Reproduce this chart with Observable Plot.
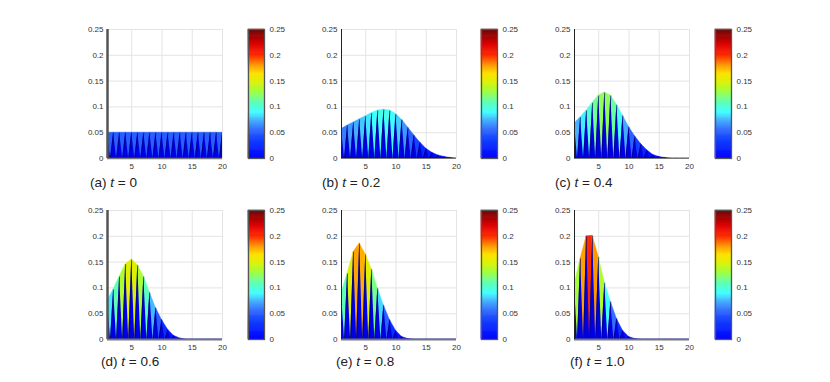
<!DOCTYPE html>
<html><head><meta charset="utf-8">
<script src="https://cdn.jsdelivr.net/npm/d3@7"></script>
<script src="https://cdn.jsdelivr.net/npm/@observablehq/plot@0.6"></script>
<style>
body{margin:0;background:#fff;}
#root{position:relative;width:830px;height:382px;overflow:hidden;background:#fff;}
#root svg{position:absolute;overflow:visible;}
.cap{position:absolute;font-family:"Liberation Sans",Arial,sans-serif;font-size:13.5px;color:#222;white-space:nowrap;line-height:16px;}
</style></head><body><div id="root"></div>
<script>
// ---------- data ----------
const xs = [1,2,3,4,5,6,7,8,9,10,11,12,13,14,15,16,17,18,19,20];
const panelLetters = ["(a)","(b)","(c)","(d)","(e)","(f)"];
const panelTimes = ["0","0.2","0.4","0.6","0.8","1.0"];
const uA = [0.05,0.05,0.05,0.05,0.05,0.05,0.05,0.05,0.05,0.05,0.05,0.05,0.05,0.05,0.05,0.05,0.05,0.05,0.05,0.05];
const uB = [0.057,0.064,0.070,0.076,0.082,0.088,0.093,0.095,0.093,0.086,0.075,0.060,0.045,0.031,0.019,0.011,0.006,0.003,0.001,0];
const uC = [0.068,0.080,0.093,0.108,0.122,0.128,0.122,0.104,0.083,0.061,0.043,0.028,0.016,0.007,0.003,0.001,0,0,0,0];
const uD = [0.075,0.097,0.122,0.146,0.155,0.144,0.122,0.091,0.061,0.038,0.019,0.007,0.002,0,0,0,0,0,0,0];
const uE = [0.090,0.128,0.170,0.186,0.165,0.136,0.099,0.066,0.038,0.017,0.005,0.001,0,0,0,0,0,0,0,0];
const uF = [0.106,0.157,0.200,0.201,0.160,0.110,0.073,0.040,0.017,0.005,0.001,0,0,0,0,0,0,0,0,0];
const series = [uA,uB,uC,uD,uE,uF];
const yTicks = [0,0.05,0.1,0.15,0.2,0.25];
const yTickLabels = ["0","0.05","0.1","0.15","0.2","0.25"];
const xTicks = [5,10,15,20];
// jet-like colormap stops (value -> colour)
const jetValues = [0,0.03,0.055,0.075,0.09,0.11,0.13,0.15,0.165,0.18,0.2,0.22,0.25];
const jetColors = ["#0000ff","#0a32ff","#3068ff","#48b4ff","#40ffff","#60ffb0","#a0ff40","#e0f000","#ffe000","#ff9a00","#ff2a00","#e00000","#6a0000"];

// ---------- layout ----------
const plotLefts = [107,341,574];
const barLefts = [248,481,715];
const rowTops = [29,210];
const PW = 115, PH = 129;
const ML = 32, MR = 8, MT = 6, MB = 18;
const capPos = [[90,175],[322,175],[555,175],[101,354],[336,354],[570,354]];
const leftAxisW = [2.5,1,1,2.5,1,1];
const leftAxisC = ["#555","#222","#222","#555","#222","#222"];
const botAxisW = [1.5,1.2,1.2,2.2,2.2,2.2];

const colorScale = {type:"linear", domain: jetValues, range: jetColors, interpolate:"rgb"};
const fmtY = d => yTickLabels[yTicks.indexOf(d)];
const font = "'Liberation Sans', Arial, sans-serif";
const root = document.getElementById("root");
const zero = () => 0;

function panel(u, k){
  const segs = [];
  for (let i = 0; i < xs.length-1; i++){
    const v = (u[i]+u[i+1])/2;
    segs.push({x:xs[i], y:u[i], s:i, v}, {x:xs[i+1], y:u[i+1], s:i, v});
  }
  const tris = [];
  xs.forEach((x,i) => {
    tris.push({x:x-0.5, y:0, t:i}, {x:x, y:u[i], t:i}, {x:x+0.5, y:0, t:i});
  });
  const edges = xs.map((x,i) => ({x1:x, y1:u[i], x2:x-0.5, y2:0}));
  return Plot.plot({
    width: ML+PW+MR, height: MT+PH+MB,
    marginLeft: ML, marginRight: MR, marginTop: MT, marginBottom: MB,
    x: {domain:[1,20]}, y: {domain:[0,0.25]},
    color: colorScale,
    style: {fontSize:"8px", fontFamily: font, color:"#333", background:"transparent"},
    marks: [
      Plot.gridX(xTicks, {stroke:"#e4e4e4", strokeOpacity:1}),
      Plot.gridY(yTicks, {stroke:"#e4e4e4", strokeOpacity:1}),
      Plot.areaY(segs, {x:"x", y1:zero, y2:"y", z:"s", fill:"v", stroke:"v", strokeWidth:0.4, clip:true}),
      Plot.areaY(tris, {x:"x", y1:zero, y2:"y", z:"t", fill:"#0000e4", clip:true}),
      Plot.link(edges, {x1:"x1", y1:"y1", x2:"x2", y2:"y2", stroke:"#00004a", strokeWidth:0.7, strokeOpacity:0.8, clip:true}),
      Plot.ruleY([0], {stroke:"#777", strokeWidth: botAxisW[k]}),
      Plot.ruleX([1], {stroke: leftAxisC[k], strokeWidth: leftAxisW[k]}),
      Plot.axisX(xTicks, {tickSize:0, tickPadding:5, label:null, fill:"#333"}),
      Plot.axisY(yTicks, {tickSize:0, tickPadding:4, label:null, tickFormat: fmtY, fill:"#333"})
    ]
  });
}

const bands = d3.range(0, 250).map(k => ({y1:k*0.001, y2:(k+1)*0.001, v:(k+0.5)*0.001}));
function colorbar(){
  return Plot.plot({
    width: 16+30, height: MT+PH+MB,
    marginLeft: 0, marginRight: 30, marginTop: MT, marginBottom: MB,
    y: {domain:[0,0.25]},
    color: colorScale,
    style: {fontSize:"8px", fontFamily: font, color:"#333", background:"transparent"},
    marks: [
      Plot.rect(bands, {y1:"y1", y2:"y2", fill:"v", stroke:"v", strokeWidth:0.5}),
      Plot.frame({stroke:"#555", strokeWidth:1.3}),
      Plot.axisY(yTicks, {anchor:"right", tickSize:0, tickPadding:5, label:null, tickFormat: fmtY, fill:"#333"})
    ]
  });
}

series.forEach((u,k) => {
  const row = Math.floor(k/3), col = k%3;
  const p = panel(u,k);
  p.style.left = (plotLefts[col]-ML)+"px";
  p.style.top = (rowTops[row]-MT)+"px";
  root.appendChild(p);
  const c = colorbar();
  c.style.left = barLefts[col]+"px";
  c.style.top = (rowTops[row]-MT)+"px";
  root.appendChild(c);
  const cap = document.createElement("div");
  cap.className = "cap";
  cap.style.left = capPos[k][0]+"px";
  cap.style.top = capPos[k][1]+"px";
  cap.innerHTML = panelLetters[k] + " <i>t</i> = " + panelTimes[k];
  root.appendChild(cap);
});
</script></body></html>
